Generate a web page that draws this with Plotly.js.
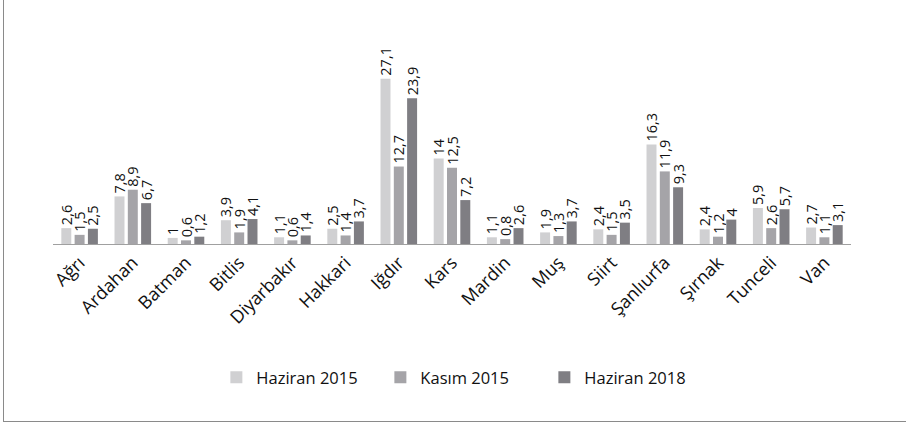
<!DOCTYPE html>
<html>
<head>
<meta charset="utf-8">
<script src="https://cdn.plot.ly/plotly-3.0.1.min.js"></script>
<style>
  html, body { margin: 0; padding: 0; background: #fff; }
  #wrap { position: relative; width: 906px; height: 424px; overflow: hidden; }
  #frame { position: absolute; left: 3px; top: -2px; width: 920px; height: 424px;
           border-left: 1px solid #8a8a8a; border-bottom: 1px solid #8a8a8a; box-sizing: border-box; }
  #chart { position: absolute; left: 0; top: 0; width: 906px; height: 424px; }
</style>
</head>
<body>
<div id="wrap">
  <div id="chart"></div>
  <div id="frame"></div>
</div>
<script>
const categories = ["Ağrı", "Ardahan", "Batman", "Bitlis", "Diyarbakır", "Hakkari", "Iğdır", "Kars",
                    "Mardin", "Muş", "Siirt", "Şanlıurfa", "Şırnak", "Tunceli", "Van"];
const seriesNames = ["Haziran 2015", "Kasım 2015", "Haziran 2018"];
const haziran2015 = [2.6, 7.8, 1, 3.9, 1.1, 2.5, 27.1, 14, 1.1, 1.9, 2.4, 16.3, 2.4, 5.9, 2.7];
const kasim2015   = [1.5, 8.9, 0.6, 1.9, 0.6, 1.4, 12.7, 12.5, 0.8, 1.3, 1.5, 11.9, 1.2, 2.6, 1.1];
const haziran2018 = [2.5, 6.7, 1.2, 4.1, 1.4, 3.7, 23.9, 7.2, 2.6, 3.7, 3.5, 9.3, 4, 5.7, 3.1];
const seriesColors = ["#d0d0d2", "#a5a4a8", "#7f7e83"];

const FONT = "Open Sans, Liberation Sans, sans-serif";
const fmt = v => String(v).replace(".", ",");

const allSeries = [haziran2015, kasim2015, haziran2018];
const traces = allSeries.map((vals, i) => ({
  type: "bar",
  name: seriesNames[i],
  x: categories,
  y: vals,
  text: vals.map(fmt),
  textposition: "outside",
  textangle: -90,
  constraintext: "none",
  cliponaxis: false,
  textfont: { family: FONT, size: 14.5, color: "#111" },
  marker: { color: seriesColors[i], line: { width: 0 } },
  hoverinfo: "none"
}));

const layout = {
  width: 906, height: 424,
  paper_bgcolor: "rgba(0,0,0,0)",
  plot_bgcolor: "rgba(0,0,0,0)",
  margin: { l: 53, r: 55, t: 61, b: 180 },
  barmode: "group",
  bargap: 0.25,
  bargroupgap: 0.25,
  showlegend: true,
  legend: {
    orientation: "h", x: 0.513, xanchor: "center", y: -0.73, yanchor: "middle",
    font: { family: FONT, size: 16.5, color: "#111" },
    entrywidth: 119, entrywidthmode: "pixels",
    traceorder: "normal"
  },
  xaxis: {
    type: "category",
    tickangle: -45,
    tickfont: { family: FONT, size: 18, color: "#111" },
    showline: true, linecolor: "#a0a0a0", linewidth: 1,
    ticks: "", showgrid: false, zeroline: false
  },
  yaxis: {
    range: [0, 30],
    visible: false,
    showgrid: false, zeroline: false
  }
};

Plotly.newPlot("chart", traces, layout, { staticPlot: true, displayModeBar: false });
</script>
</body>
</html>
